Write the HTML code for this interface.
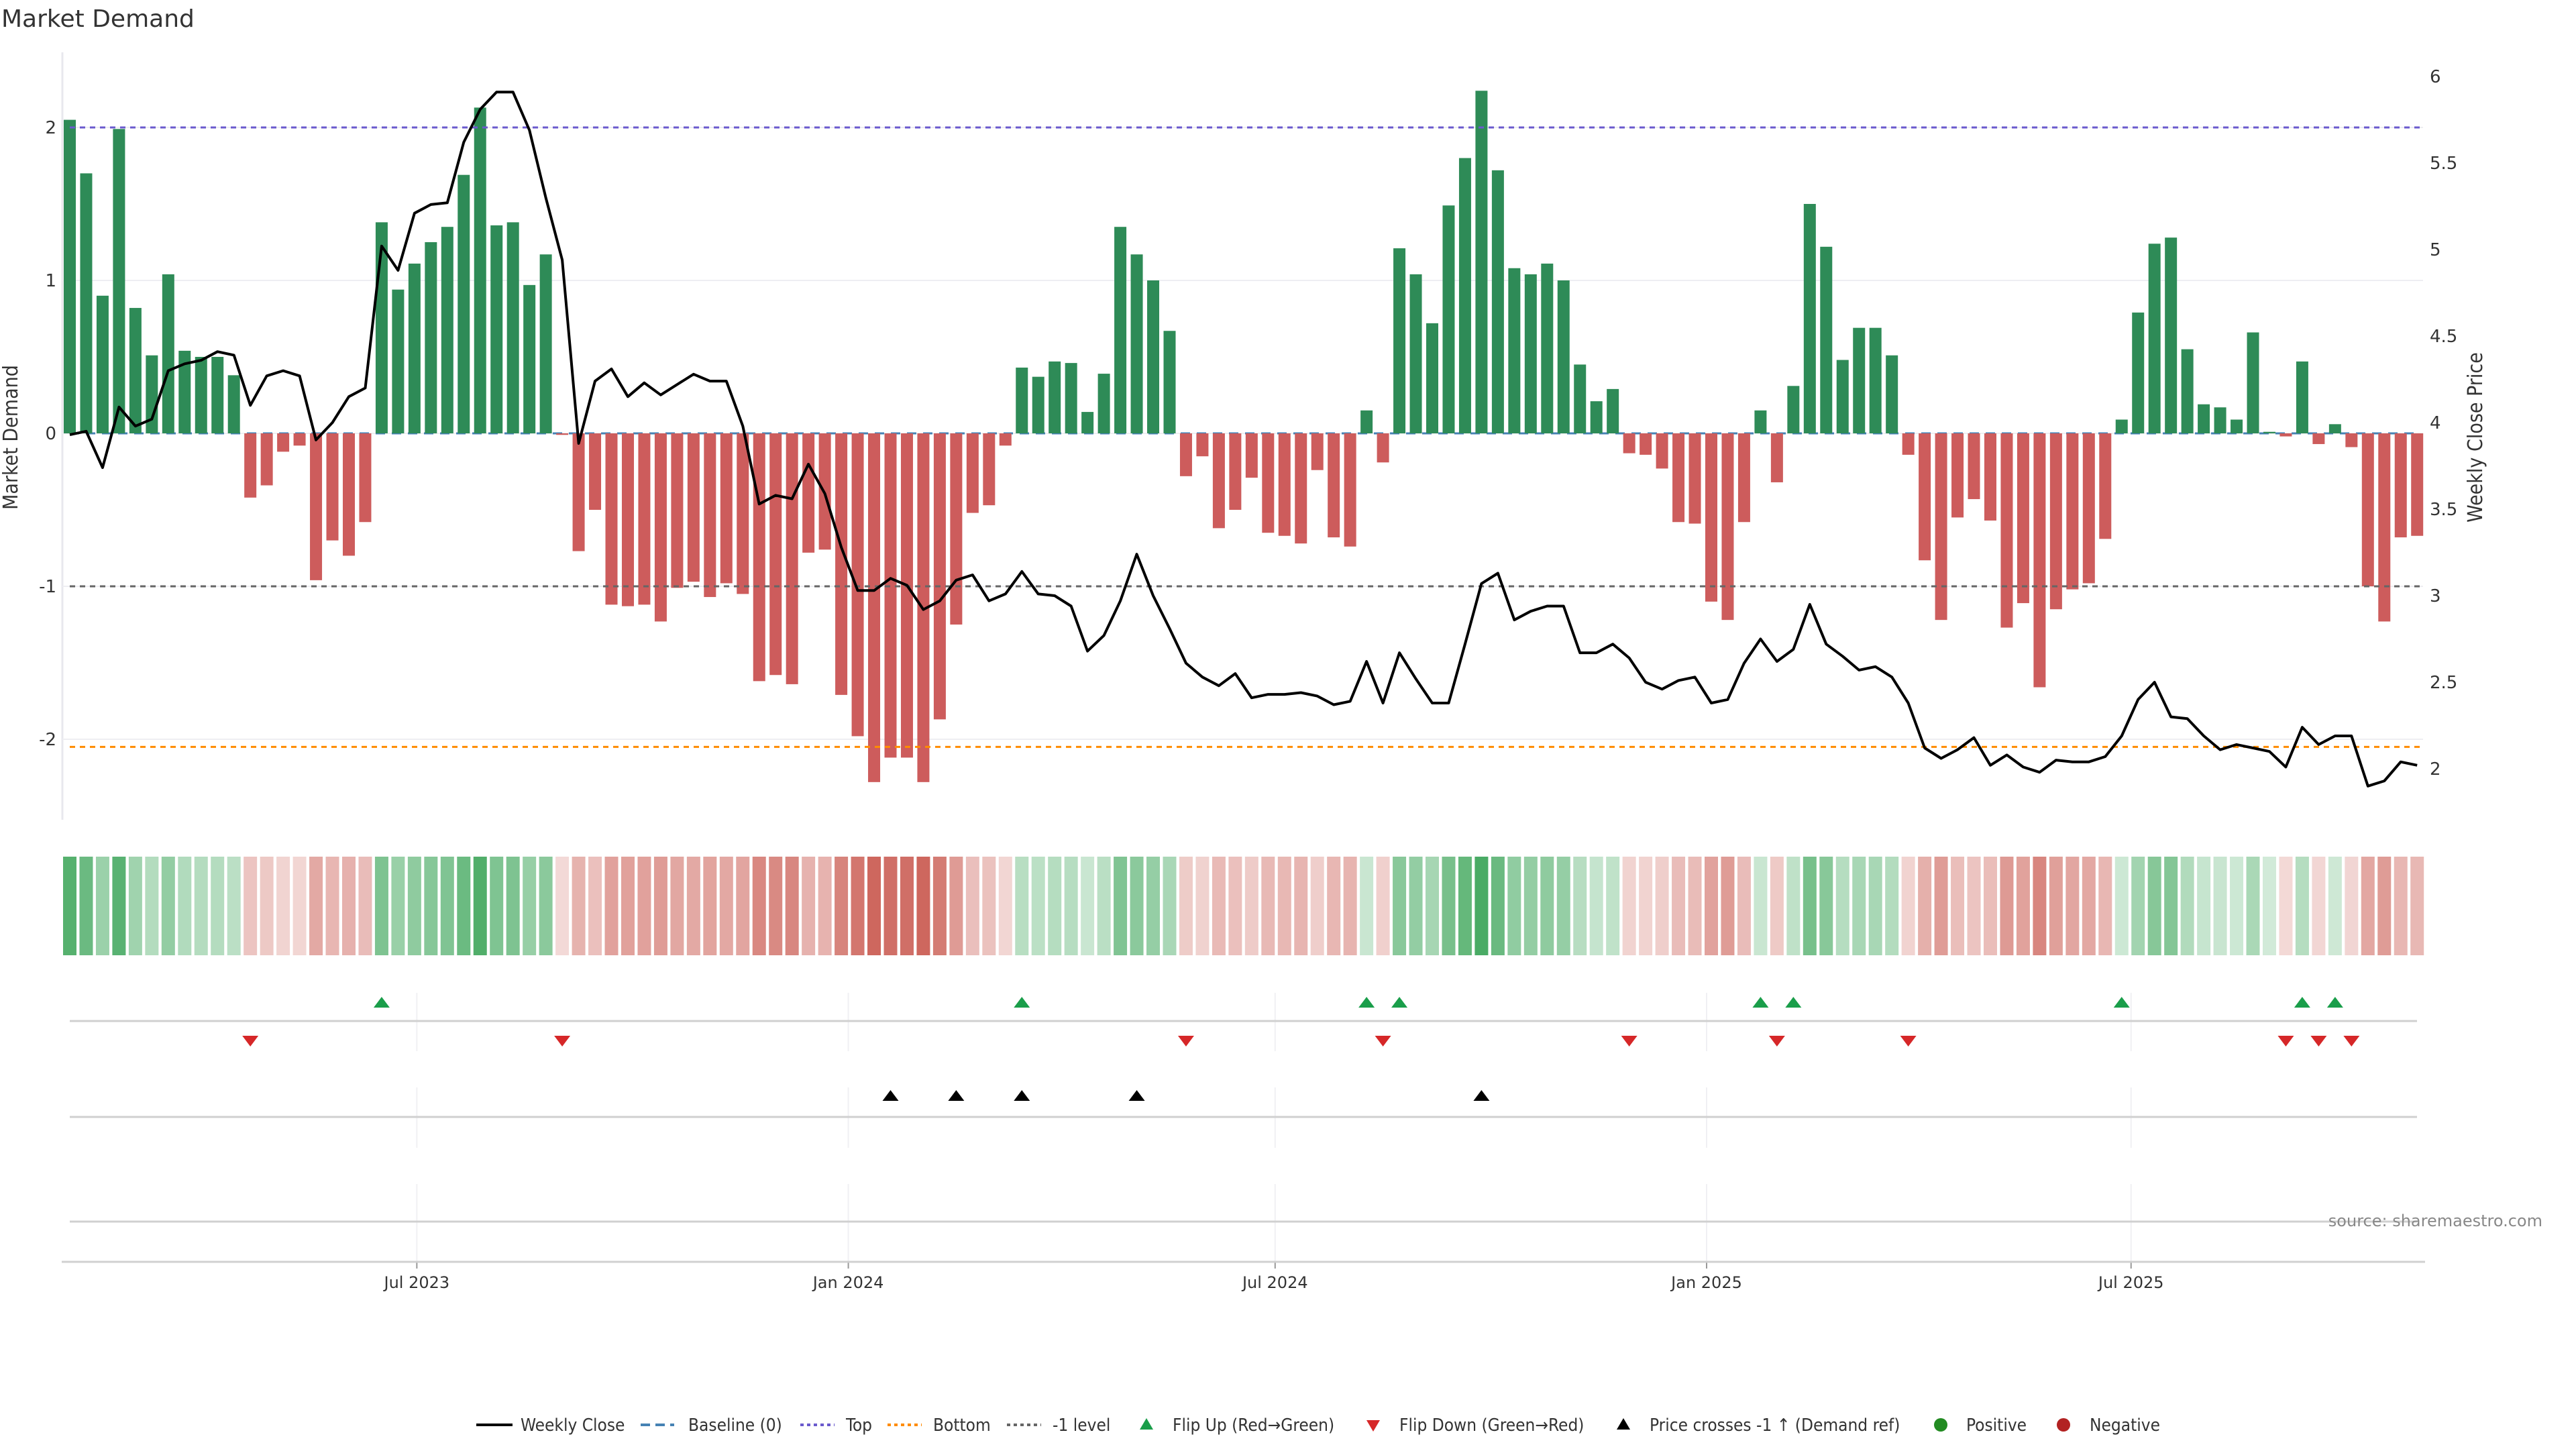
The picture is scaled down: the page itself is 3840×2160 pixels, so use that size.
<!DOCTYPE html>
<html><head><meta charset="utf-8"><style>
html,body{margin:0;padding:0;background:#fff;}
svg{display:block;font-family:"DejaVu Sans","Liberation Sans",sans-serif;}
.cond{font-family:"DejaVu Sans Condensed","DejaVu Sans","Liberation Sans",sans-serif;}
</style></head><body>
<svg id="chart" width="3840" height="2160" viewBox="0 0 3840 2160" xmlns="http://www.w3.org/2000/svg">
<rect width="3840" height="2160" fill="#fff"/>
<text x="2" y="40" font-size="36" fill="#333">Market Demand</text>
<g id="main"></g>
<g id="lower"></g>
<text class="cond" transform="translate(26,652) rotate(-90)" text-anchor="middle" font-size="30" fill="#333">Market Demand</text>
<text class="cond" transform="translate(3700,652) rotate(-90)" text-anchor="middle" font-size="30" fill="#333">Weekly Close Price</text>
<text x="3790" y="1828" text-anchor="end" font-size="24" fill="#888">source: sharemaestro.com</text>
<g id="legend" class="cond" font-size="26" fill="#333">
  <g><line x1="710" y1="2124" x2="764" y2="2124" stroke="#000" stroke-width="4"/><text x="776" y="2133">Weekly Close</text></g>
  <g><line x1="955" y1="2124" x2="1005" y2="2124" stroke="#4682b4" stroke-width="4" stroke-dasharray="14,8"/><text x="1026" y="2133">Baseline (0)</text></g>
  <g><line x1="1193" y1="2124" x2="1244" y2="2124" stroke="#6a5acd" stroke-width="4" stroke-dasharray="5,5"/><text x="1261" y="2133">Top</text></g>
  <g><line x1="1323" y1="2124" x2="1374" y2="2124" stroke="#ff8c00" stroke-width="4" stroke-dasharray="5,5"/><text x="1391" y="2133">Bottom</text></g>
  <g><line x1="1501" y1="2124" x2="1552" y2="2124" stroke="#666" stroke-width="4" stroke-dasharray="5,5"/><text x="1569" y="2133">-1 level</text></g>
  <g><polygon points="1709,2114 1699,2131 1719,2131" fill="#1a9e4a"/><text x="1748" y="2133">Flip Up (Red→Green)</text></g>
  <g><polygon points="2037,2117 2057,2117 2047,2134" fill="#d62728"/><text x="2086" y="2133">Flip Down (Green→Red)</text></g>
  <g><polygon points="2420,2114 2410,2131 2430,2131" fill="#000"/><text x="2459" y="2133">Price crosses -1 ↑ (Demand ref)</text></g>
  <g><circle cx="2893" cy="2124" r="10" fill="#228b22"/><text x="2931" y="2133">Positive</text></g>
  <g><circle cx="3076" cy="2124" r="10" fill="#b22222"/><text x="3115" y="2133">Negative</text></g>
</g>
</svg>
<script>
const demand = [2.05,1.70,0.90,1.99,0.82,0.51,1.04,0.54,0.50,0.50,0.38,
-0.42,-0.34,-0.12,-0.08,-0.96,-0.70,-0.80,-0.58,
1.38,0.94,1.11,1.25,1.35,1.69,2.13,1.36,1.38,0.97,1.17,
-0.01,-0.77,-0.50,-1.12,-1.13,-1.12,-1.23,
-1.01,-0.97,-1.07,-0.98,-1.05,-1.62,-1.58,-1.64,-0.78,-0.76,-1.71,-1.98,-2.28,-2.12,-2.12,-2.28,-1.87,-1.25,-0.52,-0.47,-0.08,
0.43,0.37,0.47,0.46,0.14,0.39,1.35,1.17,1.00,0.67,
-0.28,-0.15,-0.62,-0.50,-0.29,-0.65,-0.67,-0.72,-0.24,-0.68,-0.74,
0.15,-0.19,
1.21,1.04,0.72,1.49,1.80,2.24,1.72,1.08,1.04,1.11,1.00,0.45,0.21,0.29,
-0.13,-0.14,-0.23,-0.58,-0.59,-1.10,-1.22,-0.58,
0.15,-0.32,
0.31,1.50,1.22,0.48,0.69,0.69,0.51,
-0.14,-0.83,-1.22,-0.55,-0.43,-0.57,-1.27,-1.11,-1.66,-1.15,-1.02,-0.98,-0.69,
0.09,0.79,1.24,1.28,0.55,0.19,0.17,0.09,0.66,0.01,
-0.02,0.47,-0.07,0.06,-0.09,
-1.00,-1.23,-0.68,-0.67];
const price = [3.93,3.95,3.74,4.09,3.98,4.02,4.30,4.34,4.36,4.41,4.39,4.10,4.27,4.30,4.27,3.90,4.00,4.15,4.20,5.02,4.88,5.21,5.26,5.27,5.62,5.81,5.91,5.91,5.69,5.30,4.94,3.88,4.24,4.31,4.15,4.23,
4.16,4.22,4.28,4.24,4.24,3.98,3.53,3.58,3.56,3.76,3.59,3.28,3.03,3.03,3.10,3.06,2.92,2.97,3.09,3.12,2.97,3.01,3.14,3.01,3.00,2.94,2.68,2.77,2.97,3.24,3.00,2.81,2.61,2.53,2.48,2.55,
2.41,2.43,2.43,2.44,2.42,2.37,2.39,2.62,2.38,2.67,2.52,2.38,2.38,2.72,3.07,3.13,2.86,2.91,2.94,2.94,2.67,2.67,2.72,2.64,2.50,2.46,2.51,2.53,2.38,2.40,2.61,2.75,2.62,2.69,2.95,2.72,2.65,
2.57,2.59,2.53,2.38,2.12,2.06,2.11,2.18,2.02,2.08,2.01,1.98,2.05,2.04,2.04,2.07,2.19,2.40,2.50,2.30,2.29,2.19,2.11,2.14,2.12,2.10,2.01,2.24,2.14,2.19,2.19,1.90,1.93,2.04,2.02];
const demandTicks = [2,1,0,-1,-2];
const priceTicks = [6,5.5,5,4.5,4,3.5,3,2.5,2];
const dateTicks = ["2023-07-01","2024-01-01","2024-07-01","2025-01-01","2025-07-01"];
const dateTickLabels = ["Jul 2023","Jan 2024","Jul 2024","Jan 2025","Jul 2025"];
const topLevel = 2.0;
const bottomLevel = -2.05;
const minusLevel = -1;

const NS = "http://www.w3.org/2000/svg";
const X0 = 104, PITCH = 24.47, BW = 18;
const startDate = new Date("2023-02-03T00:00:00Z");
function xIdx(i){ return X0 + i*PITCH; }
function xDate(s){ const d=new Date(s+"T00:00:00Z"); return X0 + (d-startDate)/(7*86400000)*PITCH; }
function yD(v){ return 646 - v*228; }
function yP(p){ return 630 - (p-4)*258; }
function el(tag, attrs, parent){ const e=document.createElementNS(NS,tag); for(const k in attrs) e.setAttribute(k,attrs[k]); parent.appendChild(e); return e; }
const main = document.getElementById('main');
const lower = document.getElementById('lower');

let ax = el('line',{x1:93,y1:78,x2:93,y2:1222,stroke:'#e8e8ee','stroke-width':3},main);


demandTicks.forEach(t=>{
  const g = el('line',{x1:93,y1:yD(t),x2:3612,y2:yD(t),stroke:'#eeeef2','stroke-width':2},main);
  
  
  const tx = el('text',{x:84,y:yD(t)+9,'text-anchor':'end','font-size':26,fill:'#333'},main);
  tx.textContent = t;
  
  
});
priceTicks.forEach(t=>{
  const tx = el('text',{x:3622,y:yP(t)+9,'font-size':26,fill:'#333'},main);
  tx.textContent = t;
  
  
});
let bl = el('line',{x1:X0,y1:yD(0),x2:xIdx(demand.length-1),y2:yD(0),stroke:'#4682b4','stroke-width':3,'stroke-dasharray':'14,10'},main);


demand.forEach((v,i)=>{
  const y0=yD(0), y1=yD(v);
  const b = el('rect',{x:xIdx(i)-BW/2,y:Math.min(y0,y1),width:BW,height:Math.max(1,Math.abs(y1-y0)),fill:v>=0?'#2e8b57':'#cd5c5c'},main);
  
  
});
[[topLevel,'#6a5acd','top-level-line'],[bottomLevel,'#ff8c00','bottom-level-line'],[minusLevel,'#666','minus1-level-line']].forEach(r=>{
  const l = el('line',{x1:X0,y1:yD(r[0]),x2:3612,y2:yD(r[0]),stroke:r[1],'stroke-width':3,'stroke-dasharray':'8,7'},main);
  
  
});
let pts = price.map((p,i)=>xIdx(i).toFixed(1)+','+yP(p).toFixed(1)).join(' ');
let pl = el('polyline',{points:pts,fill:'none',stroke:'#000','stroke-width':4,'stroke-linejoin':'round'},main);



demand.forEach((v,i)=>{
  const t = 0.22 + 0.68*Math.min(Math.abs(v)/2.3,1);
  const base = v>=0 ? [50,160,80] : [200,85,75];
  const c = base.map(b=>Math.round(255-(255-b)*t));
  const r = el('rect',{x:xIdx(i)-10,y:1277,width:20,height:147,fill:'rgb('+c.join(',')+')'},lower);
  
  
});
dateTicks.forEach((d,k)=>{
  const x = xDate(d);
  [[1480,1567],[1621,1711],[1765,1881]].forEach(s=>{
    const g = el('line',{x1:x,y1:s[0],x2:x,y2:s[1],stroke:'#f0f0f3','stroke-width':2},lower);
    
    
  });
  const tk = el('line',{x1:x,y1:1881,x2:x,y2:1891,stroke:'#999','stroke-width':2},lower);
  
  
  const tx = el('text',{x:x,y:1920,'text-anchor':'middle','font-size':24,fill:'#333'},lower);
  tx.textContent = dateTickLabels[k];
  
  
});
[[1522,X0,3603],[1665,X0,3603],[1821,X0,3603],[1881,92,3615]].forEach(r=>{
  const l = el('line',{x1:r[1],y1:r[0],x2:r[2],y2:r[0],stroke:'#d0d0d0','stroke-width':3},lower);
  
  
});
for(let i=1;i<demand.length;i++){
  const x=xIdx(i);
  if(demand[i-1]<0 && demand[i]>=0){
    const m = el('polygon',{points:(x)+',1486 '+(x-12)+',1502 '+(x+12)+',1502',fill:'#1a9e4a'},lower);
    
    
  }
  if(demand[i-1]>=0 && demand[i]<0){
    const m = el('polygon',{points:(x-12)+',1544 '+(x+12)+',1544 '+x+',1560',fill:'#d62728'},lower);
    
    
  }
}
const refPrice = 4 + (630 - yD(minusLevel))/258;
for(let i=1;i<price.length;i++){
  if(price[i-1]<refPrice && price[i]>=refPrice){
    const x=xIdx(i);
    const m = el('polygon',{points:x+',1625 '+(x-12)+',1641 '+(x+12)+',1641',fill:'#000'},lower);
    
    
  }
}
</script>
</body></html>
